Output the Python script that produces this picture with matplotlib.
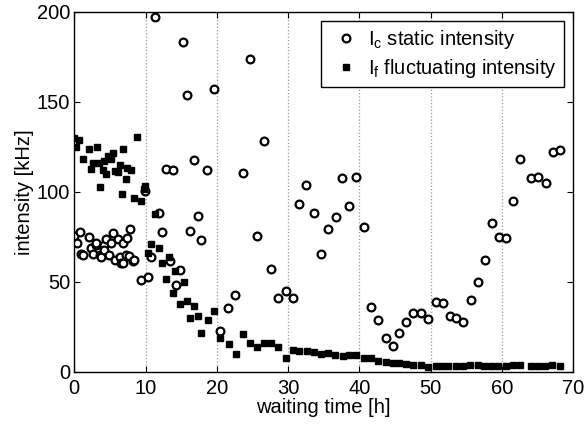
import numpy as np
import matplotlib.pyplot as plt

plt.rcParams['font.family'] = ['Liberation Sans', 'DejaVu Sans']

# static intensity I_c (circles)
t_c = [0.0, 0.4, 0.8, 0.9, 1.2, 2.1, 2.4, 2.6, 3.0, 3.1, 3.6, 3.7, 4.1, 4.1,
       4.5, 4.9, 5.1, 5.4, 5.7, 6.2, 6.4, 6.6, 6.9, 6.9, 7.2, 7.4, 7.7, 7.8,
       8.3, 8.4,
       9.3, 9.9, 10.4, 10.8, 11.3, 11.9, 12.3, 12.8, 13.4, 13.9, 14.3, 14.9,
       15.3, 15.8, 16.3, 16.8, 17.3, 17.8, 18.6, 19.6, 20.5, 21.6, 22.6,
       23.7, 24.6, 25.6, 26.6, 27.6, 28.6, 29.65, 30.7, 31.6, 32.5, 33.6,
       34.6, 35.6, 36.7, 37.6, 38.6, 39.6, 40.6, 41.6, 42.6, 43.7, 44.7,
       45.6, 46.6, 47.6, 48.7, 49.6, 50.7, 51.7, 52.7, 53.6, 54.6, 55.7,
       56.7, 57.7, 58.6, 59.6, 60.6, 61.6, 62.6, 64.1, 65.1, 66.2, 67.2, 68.2]
v_c = [75.4, 71.4, 77.8, 65.4, 64.9, 75.0, 68.6, 65.4, 70.4, 71.7, 64.9, 63.6,
       70.4, 67.7, 73.6, 64.9, 71.4, 77.3, 62.1, 73.6, 63.9, 60.6, 71.4, 60.3,
       64.9, 74.2, 64.3, 79.2, 61.7, 62.1,
       51.0, 100.6, 52.8, 63.6, 197.0, 88.0, 77.5, 112.5, 61.7, 112.0, 48.2,
       56.5, 183.1, 153.9, 78.2, 117.7, 86.7, 73.2, 112.1, 157.0, 22.8, 35.2,
       42.6, 110.7, 173.7, 75.5, 128.3, 57.1, 40.8, 44.9, 41.1, 93.2, 103.8,
       88.0, 65.4, 79.5, 86.2, 107.5, 92.3, 108.3, 80.3, 35.8, 28.7, 18.6,
       14.5, 21.7, 27.8, 32.8, 32.5, 29.3, 38.9, 38.0, 31.0, 29.7, 27.8,
       39.9, 50.0, 62.1, 82.9, 74.7, 74.5, 94.9, 118.1, 107.7, 108.4, 104.8,
       122.0, 123.3]

# fluctuating intensity I_f (squares)
t_f = [0.0, 0.25, 0.7, 1.2, 2.1, 2.35, 2.6, 3.2, 3.4, 3.65, 4.0, 4.2, 4.5,
       4.7, 5.1, 5.5, 5.7, 6.2, 6.4, 6.7, 6.9, 7.2, 7.4, 7.9, 8.4, 8.8, 9.3,
       9.8, 9.9, 10.4, 10.8, 11.3, 11.9, 12.3, 12.8, 13.3, 13.9, 14.2, 14.9,
       15.4, 15.8, 16.3, 16.8, 17.4, 17.8, 18.7, 19.6, 20.5, 21.7, 22.7,
       23.7, 24.6, 25.6, 26.6, 27.6, 28.6, 29.65, 30.7, 31.6, 32.6, 33.6,
       34.6, 35.6, 36.6, 37.7, 38.6, 39.6, 40.6, 41.6, 42.6, 43.7, 44.7,
       45.6, 46.6, 47.6, 48.7, 49.6, 50.7, 51.6, 52.5, 53.5, 54.5, 55.6,
       56.6, 57.5, 58.5, 59.5, 60.6, 61.6, 62.6, 64.1, 65.1, 66.1, 67.1, 68.1]
v_f = [130.0, 125.0, 129.0, 118.0, 124.0, 112.5, 116.0, 125.0, 116.0, 102.5,
       112.0, 117.0, 110.0, 120.0, 118.0, 121.5, 111.8, 111.0, 115.0, 99.0,
       124.0, 107.0, 113.0, 112.0, 96.5, 130.7, 94.7, 101.6, 103.0, 65.8, 70.8,
       87.5, 68.6, 60.3, 51.4, 64.0, 44.0, 56.0, 37.6, 49.7, 39.3, 29.7, 36.5,
       31.0, 21.3, 28.7, 33.8, 18.6, 15.4, 9.7,
       20.8, 16.1, 13.9, 16.1, 16.1, 13.6, 7.4, 11.8, 11.5, 11.5, 11.0,
       9.6, 10.4, 9.1, 8.7, 9.1, 9.1, 7.4, 7.6, 6.1, 5.6, 4.7,
       4.7, 4.1, 3.7, 3.7, 2.8, 3.3, 3.3, 3.3, 3.3, 3.3, 4.0,
       4.0, 3.3, 3.3, 3.3, 3.3, 4.0, 4.0, 3.3, 3.3, 3.3, 4.0, 3.3]

fig = plt.figure(figsize=(5.86, 4.24), dpi=100)
ax = fig.add_axes([0.1268, 0.1233, 0.8512, 0.8484])

ax.plot(t_c, v_c, 'o', mfc='white', mec='black', mew=1.6, ms=5.6,
        label=r'I$_\mathregular{c}$ static intensity')
ax.plot(t_f, v_f, 's', mfc='black', mec='black', ms=4.6,
        label=r'I$_\mathregular{f}$ fluctuating intensity')

ax.set_xlim(0, 70)
ax.set_ylim(0, 200)
ax.set_xticks(np.arange(0, 71, 10))
ax.set_yticks(np.arange(0, 201, 50))
ax.tick_params(direction='in', top=True, right=True, labelsize=14.5, length=4)
ax.tick_params(axis='y', pad=3)
ax.tick_params(axis='x', pad=5)
ax.xaxis.grid(True, linestyle=':', color='#999999', linewidth=0.9)
for s in ax.spines.values():
    s.set_linewidth(1.0)

ax.set_xlabel('waiting time [h]', fontsize=14.5, labelpad=0)
ax.set_ylabel('intensity [kHz]', fontsize=14.5, labelpad=2)

leg = ax.legend(loc='upper right', fontsize=14.5, fancybox=False, framealpha=1,
                edgecolor='black', borderaxespad=0.45, handletextpad=0.2,
                handlelength=1.8, borderpad=0.35, labelspacing=0.3)
leg.get_frame().set_linewidth(1.0)

fig.savefig('out.png', dpi=100)
